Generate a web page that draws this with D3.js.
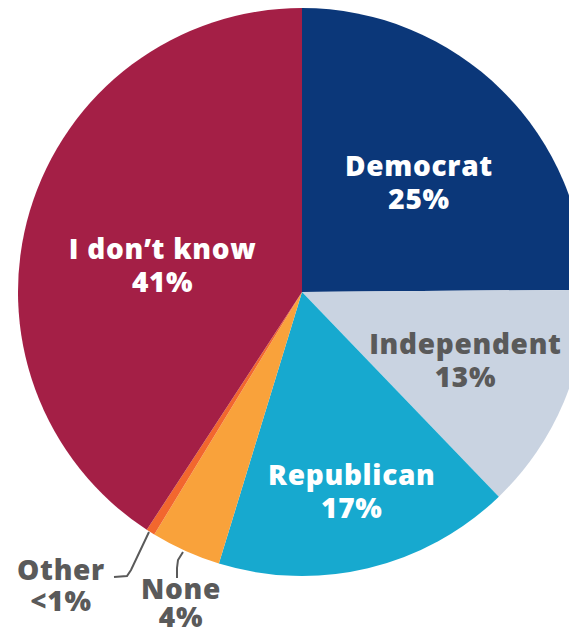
<!DOCTYPE html>
<html><head><meta charset="utf-8">
<script src="https://cdn.jsdelivr.net/npm/d3@7"></script>
<style>
html,body{margin:0;padding:0;background:#fff;}
svg{display:block;}
text{font-family:"Open Sans",sans-serif;font-weight:800;letter-spacing:0.7px;}
</style></head>
<body>
<svg id="chart" width="569" height="633"></svg>
<script>
const categories = ["Democrat","Independent","Republican","None","Other","I don\u2019t know"];
const values = [25, 13, 17, 4, 0.5, 41];
const valueLabels = ["25%","13%","17%","4%","<1%","41%"];
const colors = ["#0b3779","#c9d3e1","#17a9cf","#f9a23b","#f2672e","#a41f46"];

const W = 569, H = 633;
const cx = 302, cy = 292, R = 284;
const svg = d3.select("#chart");
const g = svg.append("g").attr("transform", `translate(${cx},${cy})`);

const pie = d3.pie().sort(null).value(d => d.v);
const data = categories.map((c,i)=>({name:c, v:values[i], label:valueLabels[i], color:colors[i]}));
const arcs = pie(data);
const arc = d3.arc().innerRadius(0).outerRadius(R);

g.selectAll("path.slice").data(arcs).enter().append("path")
  .attr("class","slice")
  .attr("d", arc)
  .attr("fill", d => d.data.color);

// inside labels: polar placement (radius, angle in degrees, text colour)
const inside = {
  "Democrat": {r:160, a:47, fill:"#ffffff"},
  "Independent": {r:177, a:112.6, fill:"#5a5a5a"},
  "Republican": {r:206, a:166, fill:"#ffffff"},
  "I don\u2019t know": {r:142, a:281, fill:"#ffffff"}
};
const fs = 28, lh = 33;
arcs.forEach(d => {
  const L = inside[d.data.name];
  if (!L) return;
  const ang = L.a * Math.PI/180;
  const x = Math.sin(ang)*L.r, y = -Math.cos(ang)*L.r;
  const t = g.append("text").attr("text-anchor","middle").attr("fill",L.fill)
    .attr("font-size",fs);
  t.append("tspan").attr("x",x).attr("y",y - lh/2 + fs*0.36).text(d.data.name);
  t.append("tspan").attr("x",x).attr("y",y + lh/2 + fs*0.36).text(d.data.label);
});

// outside labels with leader lines
const outside = {
  "Other": {x:61, y:580, dy:31, line:[[149,532],[131,570],[127,576],[114,577]]},
  "None": {x:181, y:599, dy:28, line:[[183,552],[178,560],[177,568],[177,578]]}
};
arcs.forEach(d => {
  const L = outside[d.data.name];
  if (!L) return;
  svg.append("path")
    .attr("d", d3.line().curve(d3.curveLinear)(L.line))
    .attr("fill","none").attr("stroke","#5a5a5a").attr("stroke-width",2);
  const t = svg.append("text").attr("text-anchor","middle").attr("fill","#5a5a5a").attr("font-size",fs);
  t.append("tspan").attr("x",L.x).attr("y",L.y).text(d.data.name);
  t.append("tspan").attr("x",L.x).attr("y",L.y+L.dy).text(d.data.label);
});
</script>
</body></html>
